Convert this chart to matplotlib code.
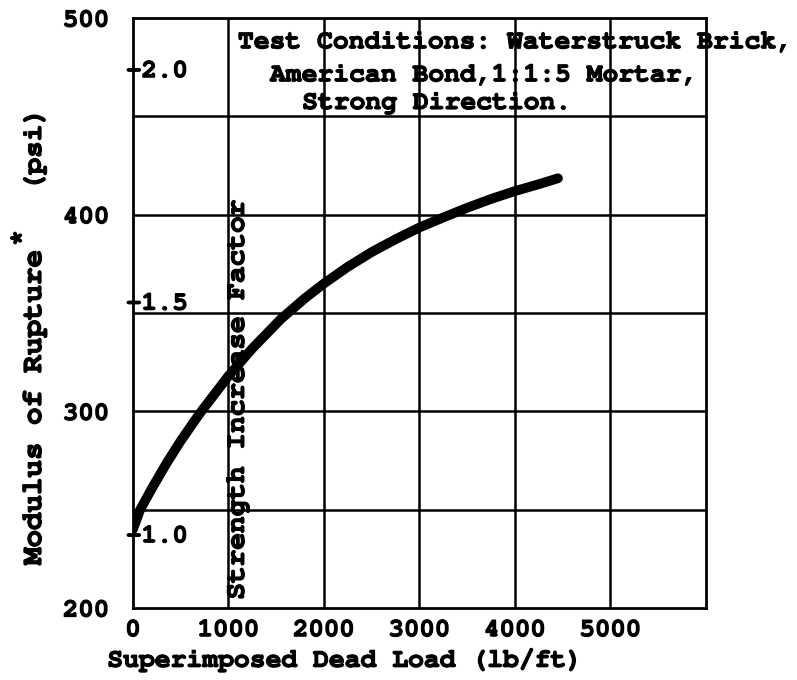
import matplotlib
matplotlib.use("Agg")
import matplotlib.pyplot as plt
import matplotlib.patheffects as pe

# ---- data ----
load_lbft = [0, 75, 200, 350, 500, 700, 850, 1000, 1250, 1550, 1800, 2000,
             2250, 2500, 2750, 3000, 3270, 3500, 3750, 4000, 4250, 4450]
rupture_psi = [240, 250, 261, 273.5, 285, 299, 308.5, 318, 332, 347, 357.5, 365,
               373.5, 381, 387.5, 393.5, 399, 403.5, 408, 412, 415.5, 418.5]

x_ticks = [0, 1000, 2000, 3000, 4000, 5000]
x_tick_labels = ["0", "1000", "2000", "3000", "4000", "5000"]
y_ticks = [200, 300, 400, 500]
y_tick_labels = ["200", "300", "400", "500"]
factor_ticks = [1.0, 1.5, 2.0]
factor_base_psi = 236.5

note_lines = ["Test Conditions: Waterstruck Brick,",
              "American Bond,1:1:5 Mortar,",
              "Strong Direction."]

FONT = ["Nimbus Mono PS", "FreeMono", "Courier New", "Liberation Mono"]
thick = [pe.withStroke(linewidth=0.9, foreground="black")]

fig = plt.figure(figsize=(7.97, 6.8), dpi=100)
ax = fig.add_axes([133 / 797, 1 - 608 / 680, (706 - 133) / 797, (608 - 18) / 680])

ax.set_xlim(0, 6000)
ax.set_ylim(200, 500)

# grid
for gx in range(1000, 6000, 1000):
    ax.axvline(gx, color="black", lw=1.8, zorder=1)
for gy in range(250, 500, 50):
    ax.axhline(gy, color="black", lw=1.8, zorder=1)
for s in ax.spines.values():
    s.set_linewidth(2.0)

ax.plot(load_lbft, rupture_psi, color="black", lw=7, solid_capstyle="round",
        solid_joinstyle="round", zorder=3)

ax.set_xticks(x_ticks)
ax.set_xticklabels(x_tick_labels)
ax.set_yticks(y_ticks)
ax.set_yticklabels(y_tick_labels)
ax.tick_params(length=0, pad=8)
ax.tick_params(axis="y", pad=17)
for lab in ax.get_xticklabels() + ax.get_yticklabels():
    lab.set_fontfamily(FONT)
    lab.set_fontweight("bold")
    lab.set_fontsize(18.5)
    lab.set_path_effects(thick)

fig.text(345 / 797, 1 - 660 / 680, "Superimposed Dead Load (lb/ft)", ha="center",
         va="center", fontfamily=FONT, fontweight="bold", fontsize=19, path_effects=thick)

# y label in pieces: main text, superscript star, unit
fig.text(35 / 797, 1 - 565 / 680, "Modulus of Rupture", rotation=90,
         ha="center", va="bottom", fontfamily=FONT, fontweight="bold",
         fontsize=21, path_effects=thick)
fig.text(21 / 797, 1 - 238 / 680, "*", rotation=90, ha="center", va="center",
         fontfamily=FONT, fontweight="bold", fontsize=19, path_effects=thick)
fig.text(35 / 797, 1 - 108 / 680, "(psi)", rotation=90,
         ha="center", va="top", fontfamily=FONT, fontweight="bold",
         fontsize=20, path_effects=thick)

# strength increase factor scale
for f in factor_ticks:
    ax.text(-0.012, f * factor_base_psi, "-" + f"{f:.1f}", transform=ax.get_yaxis_transform(),
            ha="left", va="center", fontfamily=FONT, fontweight="bold",
            fontsize=18.5, path_effects=thick, zorder=4)

ax.text(0.183, 0.352, "Strength Increase Factor", transform=ax.transAxes, rotation=90,
        ha="center", va="center", fontfamily=FONT, fontweight="bold", fontsize=20,
        path_effects=thick, zorder=4)

# test condition note
note_x = [0.183, 0.239, 0.295]
note_y = [0.959, 0.903, 0.856]
for txt, nx, ny in zip(note_lines, note_x, note_y):
    ax.text(nx, ny, txt, transform=ax.transAxes, ha="left", va="center",
            fontfamily=FONT, fontweight="bold", fontsize=19, path_effects=thick,
            clip_on=False, zorder=4)

fig.savefig("out.png", dpi=100)
